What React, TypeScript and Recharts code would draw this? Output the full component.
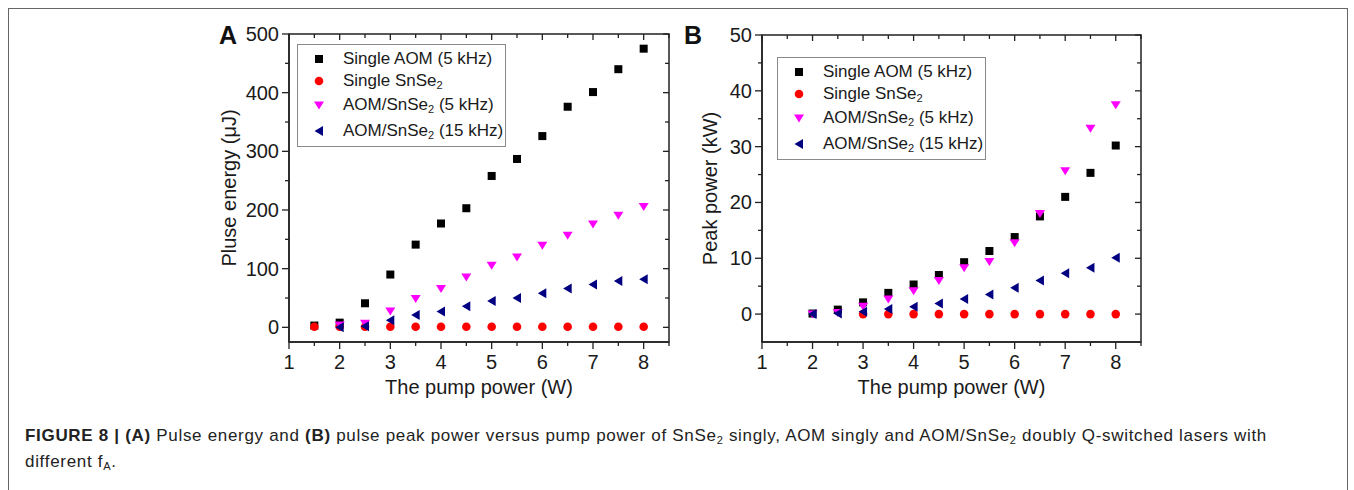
import React from 'react';
import { ScatterChart, Scatter, XAxis, YAxis, Legend, ReferenceArea } from 'recharts';

// panel A: pulse energy (uJ) vs pump power (W)
const pumpA = [1.5, 2, 2.5, 3, 3.5, 4, 4.5, 5, 5.5, 6, 6.5, 7, 7.5, 8];
const energyAomSingle = [3, 8, 41, 90, 141, 177, 203, 258, 287, 326, 376, 401, 440, 475];
const energySnSe2Single = [1, 1, 1, 1, 1, 1, 1, 1, 1, 1, 1, 1, 1, 1];
const pumpA2 = [2, 2.5, 3, 3.5, 4, 4.5, 5, 5.5, 6, 6.5, 7, 7.5, 8];
const energyDouble5k = [4, 7, 28, 49, 66, 86, 106, 120, 140, 157, 176, 191, 206];
const energyDouble15k = [0, 2, 12, 21, 27, 36, 45, 50, 58, 66, 73, 79, 82];

// panel B: peak power (kW) vs pump power (W)
const pumpB = [2, 2.5, 3, 3.5, 4, 4.5, 5, 5.5, 6, 6.5, 7, 7.5, 8];
const peakAomSingle = [0.1, 0.8, 2.1, 3.8, 5.3, 7.0, 9.3, 11.3, 13.8, 17.5, 21.0, 25.3, 30.2];
const peakDouble5k = [0, 0.3, 1.4, 2.7, 4.2, 6.0, 8.3, 9.4, 12.8, 18.0, 25.7, 33.3, 37.5];
const peakDouble15k = [0, 0.1, 0.4, 0.9, 1.3, 1.9, 2.7, 3.5, 4.7, 6.0, 7.3, 8.3, 10.1];
const pumpBSnSe2 = [3, 3.5, 4, 4.5, 5, 5.5, 6, 6.5, 7, 7.5, 8];
const peakSnSe2Single = [0, 0, 0, 0, 0, 0, 0, 0, 0, 0, 0];

const xTicks = [1, 1.5, 2, 2.5, 3, 3.5, 4, 4.5, 5, 5.5, 6, 6.5, 7, 7.5, 8, 8.5];
const yTicksA = [0, 50, 100, 150, 200, 250, 300, 350, 400, 450, 500];
const yTicksB = [0, 5, 10, 15, 20, 25, 30, 35, 40, 45, 50];

const toPoints = (xs: number[], ys: number[]) => xs.map((x, i) => ({ x, y: ys[i] }));

const FONT = '"Liberation Sans", Arial, sans-serif';
const AXIS = '#222';
const TXT = '#1a1a1a';

const square = (p: any) => <rect x={p.cx - 4} y={p.cy - 4} width={8} height={8} fill="#000" />;
const circle = (p: any) => <circle cx={p.cx} cy={p.cy} r={4.3} fill="#ff0000" />;
const triDown = (p: any) => (
  <polygon points={`${p.cx - 5},${p.cy - 3.5} ${p.cx + 5},${p.cy - 3.5} ${p.cx},${p.cy + 4.5}`} fill="#ff00ff" />
);
const triLeft = (p: any) => (
  <polygon points={`${p.cx - 4.5},${p.cy} ${p.cx + 4},${p.cy - 5} ${p.cx + 4},${p.cy + 5}`} fill="#000080" />
);

// bottom ticks point outward, the mirrored ones on the top edge point inward
const makeBottomTick = (plotH: number) => (props: any) => {
  const { x, y, payload } = props;
  const v = payload.value;
  const major = Number.isInteger(v);
  const top = y - plotH;
  return (
    <g>
      <line x1={x} y1={y} x2={x} y2={y + (major ? 7 : 4)} stroke={AXIS} strokeWidth={1.3} />
      <line x1={x} y1={top} x2={x} y2={top + (major ? 6 : 4)} stroke={AXIS} strokeWidth={1.3} />
      {major && (
        <text x={x} y={y + 20} textAnchor="middle" dominantBaseline="central" fontSize={20} fontFamily={FONT} fill={TXT}>
          {v}
        </text>
      )}
    </g>
  );
};

const makeLeftTick = (step: number, plotW: number) => (props: any) => {
  const { x, y, payload } = props;
  const v = payload.value;
  const major = v % step === 0;
  const right = x + plotW;
  return (
    <g>
      <line x1={x} y1={y} x2={x - (major ? 7 : 4)} y2={y} stroke={AXIS} strokeWidth={1.3} />
      <line x1={right} y1={y} x2={right - (major ? 6 : 4)} y2={y} stroke={AXIS} strokeWidth={1.3} />
      {major && (
        <text x={x - 10} y={y} textAnchor="end" dominantBaseline="central" fontSize={20} fontFamily={FONT} fill={TXT}>
          {v}
        </text>
      )}
    </g>
  );
};

const xTitle = (p: any) => {
  const vb = p.viewBox;
  return (
    <text x={vb.x + vb.width / 2} y={vb.y + 45} textAnchor="middle" dominantBaseline="central" fontSize={20} fontFamily={FONT} fill={TXT}>
      The pump power (W)
    </text>
  );
};

const makeYTitle = (label: string, dx: number) => (p: any) => {
  const vb = p.viewBox;
  const cx = vb.x + dx;
  const cy = vb.y + vb.height / 2;
  return (
    <text x={cx} y={cy} transform={`rotate(-90, ${cx}, ${cy})`} textAnchor="middle" dominantBaseline="central" fontSize={20} fontFamily={FONT} fill={TXT}>
      {label}
    </text>
  );
};

const Sub = ({ children }: any) => (
  <sub style={{ fontSize: '0.65em', verticalAlign: '-0.3em', lineHeight: 0 }}>{children}</sub>
);

const legendRows = [
  { h: 22, mark: 'square', label: <>Single AOM (5 kHz)</> },
  { h: 22, mark: 'circle', label: <>Single SnSe<Sub>2</Sub></> },
  { h: 26, mark: 'down', label: <>AOM/SnSe<Sub>2</Sub> (5 kHz)</> },
  { h: 26, mark: 'left', label: <>AOM/SnSe<Sub>2</Sub> (15 kHz)</> },
];

const LegendMark = ({ kind }: { kind: string }) => {
  const p = { cx: 10, cy: 10 };
  return (
    <svg width={20} height={20} style={{ position: 'absolute', left: 11, top: '50%', marginTop: -10 }}>
      {kind === 'square' && square(p)}
      {kind === 'circle' && circle(p)}
      {kind === 'down' && triDown(p)}
      {kind === 'left' && triLeft(p)}
    </svg>
  );
};

const LegendBox = () => (
  <div
    style={{
      width: 209,
      height: 103,
      boxSizing: 'border-box',
      border: '1px solid #8a8a8a',
      paddingTop: 3,
      fontFamily: FONT,
      fontSize: 17,
      color: TXT,
      background: '#fff',
    }}
  >
    {legendRows.map((r, i) => (
      <div key={i} style={{ position: 'relative', height: r.h, lineHeight: `${r.h}px`, whiteSpace: 'nowrap' }}>
        <LegendMark kind={r.mark} />
        <span style={{ position: 'absolute', left: 45, top: 0 }}>{r.label}</span>
      </div>
    ))}
  </div>
);

type PanelProps = {
  left: number;
  yDomain: [number, number];
  yTicks: number[];
  yStep: number;
  yTitle: string;
  yAxisWidth: number;
  marginTop: number;
  marginRight: number;
  titleDx: number;
  legendPos: { left: number; top: number };
  series: { pts: { x: number; y: number }[]; shape: any; name: string }[];
};

const CHART_W = 500;
const CHART_H = 410;
const X_AXIS_H = 60;
const MARGIN_B = 8;

const Panel = (p: PanelProps) => {
  const plotW = CHART_W - p.yAxisWidth - p.marginRight;
  const plotH = CHART_H - MARGIN_B - X_AXIS_H - p.marginTop;
  return (
    <div style={{ position: 'absolute', left: p.left, top: 0 }}>
      <ScatterChart width={CHART_W} height={CHART_H} margin={{ top: p.marginTop, right: p.marginRight, bottom: MARGIN_B, left: 0 }}>
        <ReferenceArea x1={1} x2={8.5} y1={p.yDomain[0]} y2={p.yDomain[1]} fill="none" stroke={AXIS} strokeWidth={1.5} ifOverflow="visible" />
        <XAxis
          type="number"
          dataKey="x"
          domain={[1, 8.5]}
          ticks={xTicks}
          interval={0}
          allowDataOverflow
          height={X_AXIS_H}
          tickSize={0}
          tickMargin={0}
          tick={makeBottomTick(plotH)}
          tickLine={false}
          axisLine={{ stroke: AXIS, strokeWidth: 1.5 }}
          label={{ content: xTitle }}
        />
        <YAxis
          type="number"
          dataKey="y"
          domain={p.yDomain}
          ticks={p.yTicks}
          interval={0}
          allowDataOverflow
          width={p.yAxisWidth}
          tickSize={0}
          tickMargin={0}
          tick={makeLeftTick(p.yStep, plotW)}
          tickLine={false}
          axisLine={{ stroke: AXIS, strokeWidth: 1.5 }}
          label={{ content: makeYTitle(p.yTitle, p.titleDx) }}
        />
        {p.series.map((s) => (
          <Scatter key={s.name} name={s.name} data={s.pts} shape={s.shape} isAnimationActive={false} />
        ))}
        <Legend
          layout="horizontal"
          verticalAlign="middle"
          align="center"
          content={() => <LegendBox />}
          wrapperStyle={{ position: 'absolute', left: p.legendPos.left, top: p.legendPos.top, width: 209, height: 103 }}
        />
      </ScatterChart>
    </div>
  );
};

const letterStyle: React.CSSProperties = {
  position: 'absolute',
  fontFamily: FONT,
  fontWeight: 'bold',
  fontSize: 25,
  color: '#111',
  lineHeight: '26px',
};

export default function App() {
  return (
    <div style={{ position: 'absolute', left: 0, top: 0, width: 1354, height: 490, overflow: 'hidden', background: '#fff' }}>
      <div style={{ position: 'absolute', left: 8, top: 8, width: 1340, height: 600, boxSizing: 'border-box', border: '1px solid #666' }} />
      <Panel
        left={180}
        yDomain={[-25, 500]}
        yTicks={yTicksA}
        yStep={100}
        yTitle="Pluse energy (μJ)"
        yAxisWidth={109}
        marginTop={34}
        marginRight={11}
        titleDx={49}
        legendPos={{ left: 117, top: 44 }}
        series={[
          { name: 'Single AOM (5 kHz)', pts: toPoints(pumpA, energyAomSingle), shape: square },
          { name: 'Single SnSe2', pts: toPoints(pumpA, energySnSe2Single), shape: circle },
          { name: 'AOM/SnSe2 (5 kHz)', pts: toPoints(pumpA2, energyDouble5k), shape: triDown },
          { name: 'AOM/SnSe2 (15 kHz)', pts: toPoints(pumpA2, energyDouble15k), shape: triLeft },
        ]}
      />
      <Panel
        left={650}
        yDomain={[-5, 50]}
        yTicks={yTicksB}
        yStep={10}
        yTitle="Peak power (kW)"
        yAxisWidth={112}
        marginTop={35}
        marginRight={9}
        titleDx={60}
        legendPos={{ left: 127, top: 57 }}
        series={[
          { name: 'Single AOM (5 kHz)', pts: toPoints(pumpB, peakAomSingle), shape: square },
          { name: 'Single SnSe2', pts: toPoints(pumpBSnSe2, peakSnSe2Single), shape: circle },
          { name: 'AOM/SnSe2 (5 kHz)', pts: toPoints(pumpB, peakDouble5k), shape: triDown },
          { name: 'AOM/SnSe2 (15 kHz)', pts: toPoints(pumpB, peakDouble15k), shape: triLeft },
        ]}
      />
      <div style={{ ...letterStyle, left: 219, top: 22 }}>A</div>
      <div style={{ ...letterStyle, left: 684, top: 22 }}>B</div>
      <div
        style={{
          position: 'absolute',
          left: 25,
          top: 423,
          fontFamily: FONT,
          fontSize: 17,
          letterSpacing: '0.69px',
          lineHeight: '26px',
          color: '#222',
          whiteSpace: 'nowrap',
        }}
      >
        <b>FIGURE 8 | (A)</b> Pulse energy and <b>(B)</b> pulse peak power versus pump power of SnSe<Sub>2</Sub> singly, AOM singly and AOM/SnSe<Sub>2</Sub> doubly Q-switched lasers with
        <br />
        different f<Sub>A</Sub>.
      </div>
    </div>
  );
}
